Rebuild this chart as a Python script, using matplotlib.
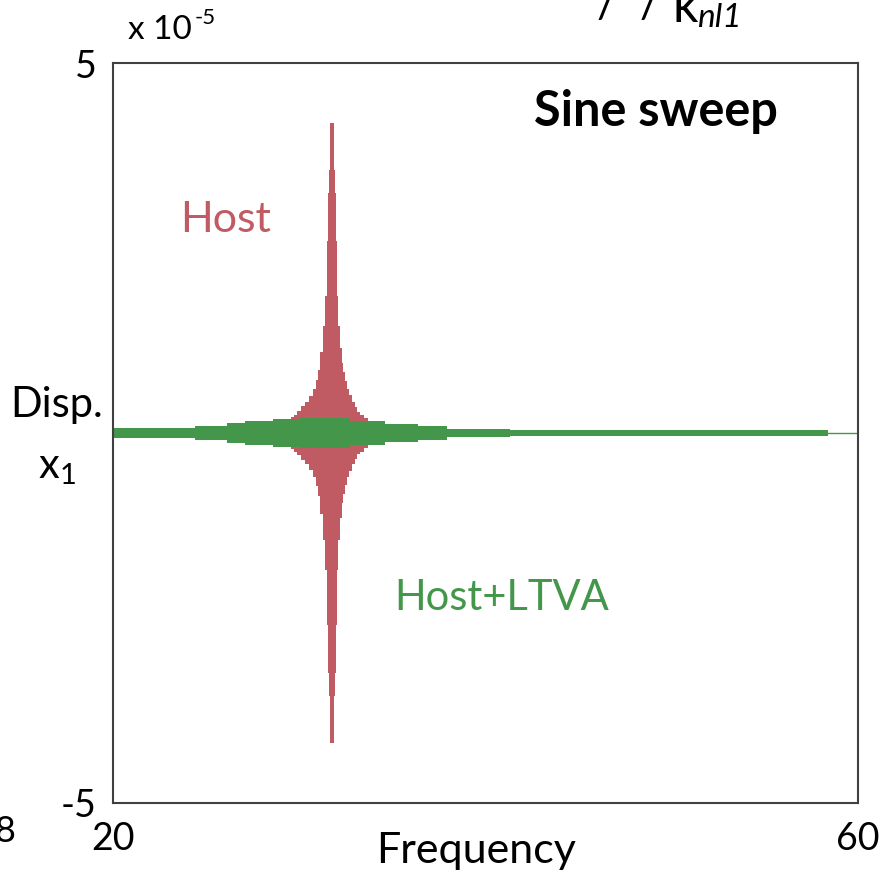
import matplotlib
matplotlib.use("Agg")
import matplotlib.pyplot as plt

plt.rcParams['font.family'] = ['Lato', 'DejaVu Sans']
plt.rcParams['mathtext.default'] = 'regular'

# Envelope of the host response (units of 1e-5), step bins: left edge freq -> amplitude
host_freq = [29.40, 29.55, 29.70, 29.88, 30.10, 30.31, 30.52, 30.74, 30.88, 31.01,
             31.14, 31.26, 31.38, 31.47, 31.53, 31.58, 31.65, 31.87, 31.94, 31.97,
             32.04, 32.10, 32.19, 32.27, 32.35, 32.46, 32.56, 32.67, 32.83, 32.99,
             33.12, 33.26, 33.47, 33.69]
host_amp = [0.18, 0.21, 0.25, 0.30, 0.36, 0.42, 0.50, 0.60, 0.72, 0.85,
            1.10, 1.45, 1.85, 2.60, 3.25, 3.56, 4.19, 3.56, 3.25, 2.60,
            1.85, 1.45, 1.15, 0.95, 0.82, 0.70, 0.60, 0.52, 0.42, 0.35,
            0.29, 0.25, 0.20, 0.0]

# Envelope of host + LTVA response
ltva_freq = [20.0, 24.40, 26.12, 27.09, 28.59, 30.04, 32.72, 34.60, 36.38, 37.93, 41.32, 58.39]
ltva_amp = [0.067, 0.10, 0.13, 0.157, 0.19, 0.20, 0.157, 0.125, 0.09, 0.06, 0.038, 0.0]

x_ticks = [20, 60]
y_ticks = [-5, 5]

red = '#C05A63'
green = '#43964A'

W, H = 885, 873
fig = plt.figure(figsize=(8.85, 8.73), dpi=100)
ax = fig.add_axes([0.1277, 0.0802, 0.8418, 0.8476])

ax.fill_between(host_freq, [-a for a in host_amp], host_amp, step='post',
                color=red, linewidth=0)
ax.plot([20, 60], [0, 0], color=green, linewidth=1.0)
ax.fill_between(ltva_freq, [-a for a in ltva_amp], ltva_amp, step='post',
                color=green, linewidth=0)

ax.set_xlim(20, 60)
ax.set_ylim(-5, 5)
ax.set_xticks(x_ticks)
ax.set_xticklabels([str(t) for t in x_ticks])
ax.set_yticks(y_ticks)
ax.set_yticklabels([str(t) for t in y_ticks])
ax.tick_params(axis='both', length=0, labelsize=27)
ax.tick_params(axis='x', pad=13)
ax.tick_params(axis='y', pad=12)
for s in ax.spines.values():
    s.set_color('#404040')
    s.set_linewidth(1.5)

fig.text(476 / W, 1 - 851 / H, 'Frequency', fontsize=31, ha='center', va='center')

fig.text(57 / W, 1 - 405 / H, 'Disp.', fontsize=30, ha='center', va='center')
fig.text(57 / W, 1 - 468 / H, 'x$_1$', fontsize=30, ha='center', va='center')

fig.text(128 / W, 1 - 39 / H, 'x 10', fontsize=24, ha='left', va='baseline')
fig.text(195 / W, 1 - 24 / H, '-5', fontsize=16, ha='left', va='baseline')

ax.text((778 - 113) / 745, 0.935, 'Sine sweep', transform=ax.transAxes, fontsize=35,
        fontweight='bold', ha='right', va='center')
ax.text((226 - 113) / 745, 1 - (220 - 63) / 740, 'Host', transform=ax.transAxes,
        fontsize=31, color=red, ha='center', va='center')
ax.text((502 - 113) / 745, 1 - (598 - 63) / 740, 'Host+LTVA', transform=ax.transAxes,
        fontsize=30, color=green, ha='center', va='center')

# fragments of neighbouring panel text cut by the figure edge
fig.text(660 / W, 1 - 18 / H, '/  /', fontsize=32, ha='right', va='baseline')
fig.text(672 / W, 1 - 22 / H, 'k', fontsize=36, ha='left', va='baseline')
fig.text(697 / W, 1 - 27 / H, 'nl1', fontsize=24, style='italic', ha='left',
         va='baseline')
fig.text(-6 / W, 1 - 842 / H, '8', fontsize=26, ha='left', va='baseline')

fig.savefig('out.png', dpi=100)
